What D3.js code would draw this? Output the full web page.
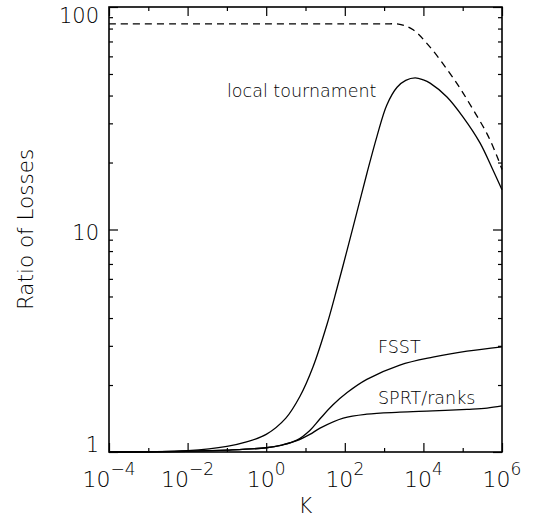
<!DOCTYPE html>
<html>
<head>
<meta charset="utf-8">
<script src="https://cdn.jsdelivr.net/npm/d3@7"></script>
<style>
  body { margin: 0; background: #fff; }
  text { font-family: "DejaVu Sans", sans-serif; font-weight: 200; fill: #000; }
</style>
</head>
<body>
<div id="chart"></div>
<script>
// size of the picture
var width = 535,
    height = 518;
var margin = {top: 7, right: 33, bottom: 66, left: 109};

// x values are given as powers of ten (log10 K), y values as ratios
var localExp   = [-4, -3, -2, -1, -0.5, 0, 0.5, 0.86, 1.19, 1.55, 1.8, 2.06, 2.31, 2.56, 2.82, 3.07, 3.33, 3.55, 3.79, 4.0, 4.17, 4.6, 5.01, 5.44, 5.77, 6];
var localVals  = [1.0, 1.002, 1.014, 1.06, 1.11, 1.2, 1.42, 1.78, 2.41, 3.76, 5.43, 8.1, 12.0, 17.8, 26.3, 36.3, 43.6, 46.8, 48, 47, 45.5, 39.4, 32, 24.5, 18.5, 15.1];

var dashExp    = [-4, -2, 0, 2, 3.0, 3.4, 3.74, 4.17, 4.6, 4.93, 5.26, 5.62, 5.87, 6];
var dashVals   = [84, 84, 84, 84, 84, 83.6, 79, 66, 52.5, 43.2, 34.7, 26.9, 21.4, 18.6];

var fsstExp    = [-4, -3, -2, -1, 0, 0.4, 0.78, 1.11, 1.37, 1.7, 2.06, 2.56, 3.4, 4.24, 5.11, 6];
var fsstVals   = [1.0, 1.002, 1.008, 1.02, 1.045, 1.075, 1.13, 1.25, 1.41, 1.63, 1.85, 2.12, 2.46, 2.67, 2.84, 2.97];

var sprtExp    = [-4, -3, -2, -1, 0, 0.4, 0.78, 1.11, 1.37, 1.96, 2.56, 3.4, 4.24, 5.11, 5.62, 6];
var sprtVals   = [1.0, 1.002, 1.008, 1.02, 1.045, 1.075, 1.125, 1.2, 1.28, 1.42, 1.48, 1.51, 1.53, 1.555, 1.575, 1.61];

// tick values
var xMajorExp = [-4, -2, 0, 2, 4, 6];
var xMinorExp = [-3, -1, 1, 3, 5];
var yMajor = [1, 10, 100];
var yMinor = [2, 3, 4, 5, 6, 7, 8, 9, 20, 30, 40, 50, 60, 70, 80, 90];

var svg = d3.select("#chart").append("svg")
    .attr("width", width)
    .attr("height", height);

var x = d3.scaleLog()
    .domain([1e-4, 1e6])
    .range([margin.left, width - margin.right]);

var y = d3.scaleLog()
    .domain([1, 100])
    .range([height - margin.bottom, margin.top]);

function pow10(e) { return Math.pow(10, e); }

// ticks on all four sides, pointing inwards
function addAxis(axis, translate) {
  var g = svg.append("g")
    .attr("transform", translate)
    .call(axis);
  g.select(".domain").remove();
  g.selectAll(".tick line").attr("stroke", "#000").attr("stroke-width", 1.2);
  g.selectAll(".tick text").remove();
}

var bottomY = height - margin.bottom,
    rightX = width - margin.right;

addAxis(d3.axisBottom(x).tickValues(xMajorExp.map(pow10)).tickSize(-9), "translate(0," + bottomY + ")");
addAxis(d3.axisBottom(x).tickValues(xMinorExp.map(pow10)).tickSize(-4), "translate(0," + bottomY + ")");
addAxis(d3.axisTop(x).tickValues(xMajorExp.map(pow10)).tickSize(-9), "translate(0," + margin.top + ")");
addAxis(d3.axisTop(x).tickValues(xMinorExp.map(pow10)).tickSize(-4), "translate(0," + margin.top + ")");
addAxis(d3.axisLeft(y).tickValues(yMajor).tickSize(-9), "translate(" + margin.left + ",0)");
addAxis(d3.axisLeft(y).tickValues(yMinor).tickSize(-4), "translate(" + margin.left + ",0)");
addAxis(d3.axisRight(y).tickValues(yMajor).tickSize(-9), "translate(" + rightX + ",0)");
addAxis(d3.axisRight(y).tickValues(yMinor).tickSize(-4), "translate(" + rightX + ",0)");

// frame
svg.append("rect")
    .attr("x", margin.left)
    .attr("y", margin.top)
    .attr("width", rightX - margin.left)
    .attr("height", bottomY - margin.top)
    .attr("fill", "none")
    .attr("stroke", "#000")
    .attr("stroke-width", 1.6);

// x tick labels: 10 with superscript exponent
xMajorExp.forEach(function(e) {
  var t = svg.append("text")
    .attr("x", x(pow10(e)))
    .attr("y", 487)
    .attr("text-anchor", "middle")
    .style("font-size", "22px");
  t.append("tspan").text("10");
  t.append("tspan")
    .attr("dy", -12)
    .style("font-size", "17px")
    .text(e < 0 ? "\u2212" + (-e) : String(e));
});

// y tick labels
yMajor.forEach(function(v) {
  svg.append("text")
    .attr("x", 99)
    .attr("y", Math.max(23, Math.min(452, y(v) + 10)))
    .attr("text-anchor", "end")
    .style("font-size", "21px")
    .text(v);
});

// axis titles
svg.append("text")
    .attr("x", (margin.left + rightX) / 2)
    .attr("y", 513)
    .attr("text-anchor", "middle")
    .style("font-size", "21px")
    .text("K");

svg.append("text")
    .attr("transform", "translate(33," + ((margin.top + bottomY) / 2) + ") rotate(-90)")
    .attr("text-anchor", "middle")
    .style("font-size", "21.5px")
    .text("Ratio of Losses");

// the curves
var line = d3.line()
    .x(function(d) { return x(pow10(d[0])); })
    .y(function(d) { return y(d[1]); })
    .curve(d3.curveCatmullRom.alpha(0.5));

var series = [
  {exp: dashExp, vals: dashVals, dash: "7,5"},
  {exp: localExp, vals: localVals, dash: null},
  {exp: fsstExp, vals: fsstVals, dash: null},
  {exp: sprtExp, vals: sprtVals, dash: null}
];

series.forEach(function(s) {
  svg.append("path")
    .datum(d3.zip(s.exp, s.vals))
    .attr("d", line)
    .attr("fill", "none")
    .attr("stroke", "#000")
    .attr("stroke-width", 1.3)
    .attr("stroke-dasharray", s.dash);
});

// curve labels
svg.append("text").attr("x", 227).attr("y", 97).style("font-size", "17.5px").text("local tournament");
svg.append("text").attr("x", 378).attr("y", 353).style("font-size", "17.5px").text("FSST");
svg.append("text").attr("x", 378).attr("y", 404).style("font-size", "17.5px").text("SPRT/ranks");
</script>
</body>
</html>
